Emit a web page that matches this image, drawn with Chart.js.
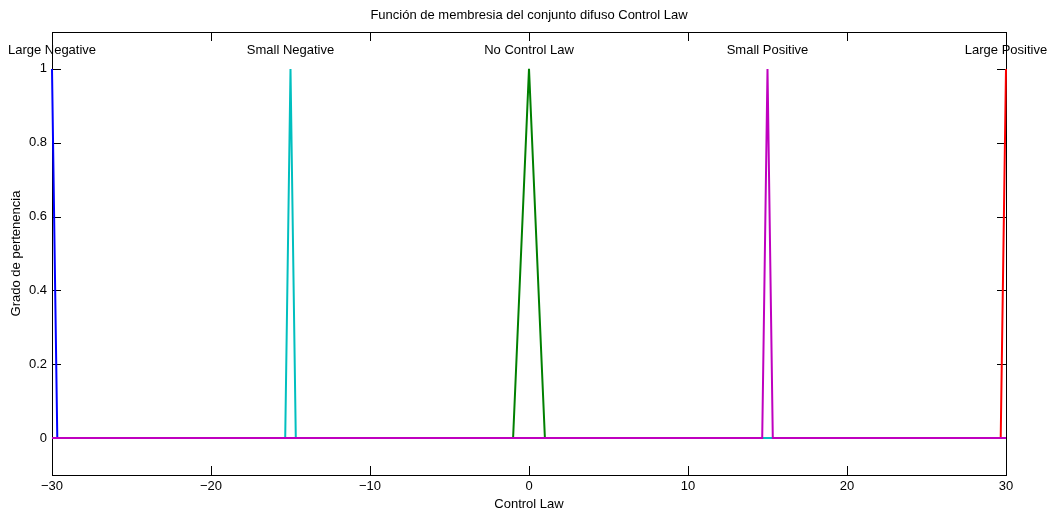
<!DOCTYPE html>
<html>
<head>
<meta charset="utf-8">
<script src="https://cdn.jsdelivr.net/npm/chart.js@4/dist/chart.umd.min.js"></script>
<style>
  html, body { margin: 0; padding: 0; background: #fff; }
  #wrap { width: 1055px; height: 516px; }
</style>
</head>
<body>
<div id="wrap"><canvas id="c" width="1055" height="516"></canvas></div>
<script>
// Membership functions of the fuzzy set "Control Law" (sampled vertices)
const setNames = ['Large Negative', 'No Control Law', 'Large Positive', 'Small Negative', 'Small Positive'];
const setColors = ['#0000ff', '#008000', '#ff0000', '#00bfbf', '#bf00bf'];

const largeNegX = [-30, -29.667, 30];
const largeNegY = [1, 0, 0];
const noControlX = [-30, -1, 0, 1, 30];
const noControlY = [0, 0, 1, 0, 0];
const largePosX = [-30, 29.667, 30];
const largePosY = [0, 0, 1];
const smallNegX = [-30, -15.333, -15, -14.667, 30];
const smallNegY = [0, 0, 1, 0, 0];
const smallPosX = [-30, 14.667, 15, 15.333, 30];
const smallPosY = [0, 0, 1, 0, 0];

const xTicks = [-30, -20, -10, 0, 10, 20, 30];
const yTicks = [0, 0.2, 0.4, 0.6, 0.8, 1];

const seriesX = [largeNegX, noControlX, largePosX, smallNegX, smallPosX];
const seriesY = [largeNegY, noControlY, largePosY, smallNegY, smallPosY];

const FONT = "'Liberation Sans', Arial, Helvetica, sans-serif";
const FS = 13;

const datasets = seriesX.map((xs, i) => ({
  label: setNames[i],
  data: xs.map((x, k) => ({ x: x, y: seriesY[i][k] })),
  borderColor: setColors[i],
  backgroundColor: setColors[i],
  borderWidth: 2,
  pointRadius: 0,
  tension: 0,
  fill: false,
  clip: false,
  order: seriesX.length - i
}));

function fmtTick(v) {
  const s = String(Math.round(v * 10) / 10);
  return s.replace('-', '\u2212');
}

// Box and inward ticks on all four sides, under the curves
const frame = {
  id: 'frame',
  beforeDatasetsDraw(chart) {
    const { ctx, chartArea: a, scales } = chart;
    const xs = scales.x, ys = scales.y;
    const len = 9;
    ctx.save();
    ctx.strokeStyle = '#000';
    ctx.lineWidth = 1;
    ctx.beginPath();
    xTicks.forEach(t => {
      const px = Math.round(xs.getPixelForValue(t)) + 0.5;
      ctx.moveTo(px, a.bottom); ctx.lineTo(px, a.bottom - len);
      ctx.moveTo(px, a.top); ctx.lineTo(px, a.top + len);
    });
    yTicks.forEach(t => {
      const py = Math.round(ys.getPixelForValue(t)) + 0.5;
      ctx.moveTo(a.left, py); ctx.lineTo(a.left + len, py);
      ctx.moveTo(a.right, py); ctx.lineTo(a.right - len, py);
    });
    ctx.stroke();
    ctx.strokeRect(Math.round(a.left) + 0.5, Math.round(a.top) + 0.5,
                   Math.round(a.right - a.left), Math.round(a.bottom - a.top));
    ctx.restore();
  },
  // set names above each peak
  afterDatasetsDraw(chart) {
    const { ctx, scales } = chart;
    ctx.save();
    ctx.fillStyle = '#000';
    ctx.font = FS + 'px ' + FONT;
    ctx.textAlign = 'center';
    ctx.textBaseline = 'middle';
    seriesX.forEach((xsArr, i) => {
      const k = seriesY[i].indexOf(1);
      ctx.fillText(setNames[i], scales.x.getPixelForValue(xsArr[k]), scales.y.getPixelForValue(1.05));
    });
    ctx.restore();
  }
};

new Chart(document.getElementById('c'), {
  type: 'line',
  data: { datasets },
  options: {
    responsive: false,
    animation: false,
    events: [],
    layout: { padding: { left: 0, right: 49, top: 0, bottom: 0 } },
    plugins: {
      legend: { display: false },
      tooltip: { enabled: false },
      title: {
        display: true,
        fullSize: false,
        text: 'Función de membresia del conjunto difuso Control Law',
        color: '#000',
        font: { family: FONT, size: FS, weight: 'normal' },
        padding: { top: 8, bottom: 8.4 }
      }
    },
    scales: {
      x: {
        type: 'linear',
        min: -30, max: 30,
        afterBuildTicks(s) { s.ticks = xTicks.map(v => ({ value: v })); },
        afterFit(s) { s.height = 41; },
        grid: { display: false, drawTicks: false },
        border: { display: false },
        ticks: {
          color: '#000', padding: 4,
          font: { family: FONT, size: FS },
          maxRotation: 0, autoSkip: false,
          callback: v => fmtTick(v)
        },
        title: {
          display: true, text: 'Control Law', color: '#000',
          font: { family: FONT, size: FS }, padding: { top: 0, bottom: 4 }
        }
      },
      y: {
        type: 'linear',
        min: -0.1, max: 1.1,
        afterBuildTicks(s) { s.ticks = yTicks.map(v => ({ value: v })); },
        afterFit(s) { s.width = 52; },
        grid: { display: false, drawTicks: false },
        border: { display: false },
        ticks: {
          color: '#000', padding: 5,
          font: { family: FONT, size: FS },
          autoSkip: false,
          callback: v => fmtTick(v)
        },
        title: {
          display: true, text: 'Grado de pertenencia', color: '#000',
          font: { family: FONT, size: FS }, padding: { top: 9, bottom: 0 }
        }
      }
    }
  },
  plugins: [frame]
});
</script>
</body>
</html>
